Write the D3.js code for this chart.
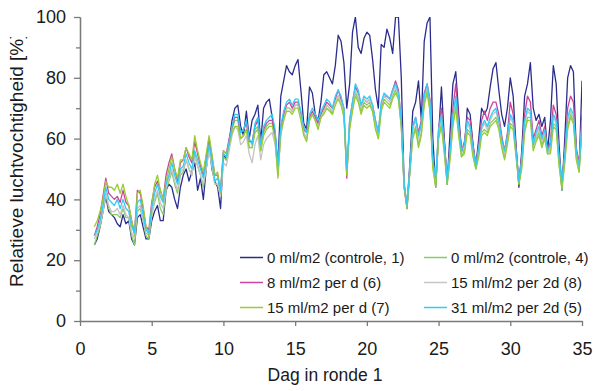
<!DOCTYPE html>
<html>
<head>
<meta charset="utf-8">
<script src="https://cdn.jsdelivr.net/npm/d3@7"></script>
<style>
  body { margin: 0; background: #fff; }
  svg { display: block; }
  text { font-family: "Liberation Sans", Arial, sans-serif; fill: #1a1a1a; }
</style>
</head>
<body>
<svg id="chart" width="594" height="391"></svg>
<script>
// Relative humidity per treatment, sampled every 0.2 day from day 1 to day 35
const firstDay = 1;
const sampleStep = 0.2;

const xTicks = [0, 5, 10, 15, 20, 25, 30, 35];
const yTicks = [0, 20, 40, 60, 80, 100];
const yMinorTicks = [10, 30, 50, 70, 90];

const seriesNames = [
  "0 ml/m2 (controle, 1)",
  "0 ml/m2 (controle, 4)",
  "8 ml/m2 per d (6)",
  "15 ml/m2 per 2d (8)",
  "15 ml/m2 per d (7)",
  "31 ml/m2 per 2d (5)"
];
const seriesColors = ["#2b2d8e", "#86cc66", "#cc4499", "#c4c4c4", "#99cc33", "#33ccf5"];

const control1 = [
  25,27,31,36,41,36,35,34,32,31,
  35,32,33,27,25,34,35,31,27,27,
  33,36,38,33,33,43,45,44,40,37,
  44,48,50,46,49,52,43,47,40,50,
  58,50,46,44,37,55,53,59,66,70,
  71,64,61,69,60,66,68,71,59,70,
  72,73,67,62,51,74,79,84,82,81,
  84,86,76,65,63,77,75,68,66,72,
  81,82,80,78,84,94,92,85,70,78,
  95,100,90,88,93,95,94,86,76,70,
  91,90,96,93,88,100,100,80,45,38,
  52,69,72,79,66,92,98,100,60,44,
  61,77,60,45,62,78,82,68,56,56,
  70,68,58,51,60,70,68,70,77,83,
  85,76,68,64,70,80,74,58,44,56,
  74,78,85,70,66,68,64,67,56,66,
  84,78,58,43,60,80,84,82,56,50,
  79
];
const control4 = [
  25,28,31,36,42,37,35,35,35,34,
  37,34,34,28,25,36,37,33,28,27,
  35,39,42,37,35,43,46,49,45,42,
  48,49,53,50,48,55,51,48,44,50,
  57,51,45,45,41,54,53,58,63,66,
  66,60,61,63,57,57,63,64,56,62,
  64,65,65,61,48,62,67,70,70,69,
  71,71,67,62,60,66,68,66,64,67,
  69,71,70,68,72,74,72,68,49,64,
  70,75,73,69,72,71,72,69,64,60,
  70,73,72,71,74,76,73,64,44,37,
  49,61,64,58,62,72,76,70,51,45,
  61,65,56,45,54,65,71,62,54,56,
  63,62,55,50,55,62,63,62,65,66,
  67,64,58,54,59,65,64,55,45,51,
  63,67,67,57,60,62,58,61,55,56,
  65,64,52,43,53,64,68,66,54,49,
  64
];
const dose8perDay = [
  28,31,35,41,47,42,41,40,41,39,
  43,39,38,33,29,43,42,37,31,30,
  39,44,46,43,40,48,52,55,50,46,
  52,53,57,54,52,59,55,51,48,54,
  60,54,48,48,43,56,55,60,64,67,
  67,62,63,65,59,59,64,66,59,63,
  65,66,66,61,50,64,68,71,72,70,
  72,72,68,63,62,67,69,67,65,68,
  70,72,71,70,73,76,73,70,47,66,
  72,77,75,71,73,72,73,71,66,62,
  71,74,74,73,76,79,76,66,44,37,
  50,64,67,62,66,75,78,73,52,46,
  63,70,59,46,57,70,78,66,56,59,
  67,66,58,51,58,66,69,66,70,72,
  72,68,61,56,62,72,68,57,46,54,
  68,74,72,60,63,66,61,64,56,59,
  71,68,54,45,56,70,74,72,57,52,
  68
];
const dose15per2d = [
  27,29,32,36,42,38,36,36,37,35,
  38,35,34,29,27,37,38,33,29,28,
  35,40,43,39,37,44,47,50,46,43,
  49,50,53,50,48,54,51,48,45,50,
  56,51,45,45,41,52,51,56,61,64,
  63,58,59,61,55,52,58,61,53,58,
  60,61,62,58,49,61,66,70,70,69,
  71,71,67,62,60,66,68,66,64,67,
  69,71,70,69,72,74,72,69,49,65,
  71,76,74,70,73,72,73,70,65,61,
  71,74,73,72,75,77,74,65,44,38,
  50,63,66,60,64,73,77,71,52,46,
  62,67,57,46,55,67,73,63,55,57,
  65,63,56,51,56,63,65,63,66,68,
  69,65,59,55,60,67,65,55,46,52,
  65,69,68,57,61,63,59,62,55,57,
  67,65,53,45,54,66,69,67,55,50,
  65
];
const dose15perDay = [
  31,33,36,40,46,44,44,43,45,42,
  45,41,38,33,28,42,43,38,31,28,
  38,45,48,43,40,46,50,54,50,47,
  53,53,57,55,53,61,56,52,49,55,
  61,55,48,49,42,56,55,58,62,64,
  64,60,61,63,57,57,62,63,56,61,
  63,64,64,60,47,62,66,69,69,68,
  70,70,66,61,59,66,68,66,63,67,
  68,70,69,68,71,73,71,67,48,63,
  69,74,72,68,71,70,71,69,63,60,
  69,72,71,70,73,75,73,64,44,37,
  49,60,63,57,61,71,75,69,50,44,
  60,64,55,45,53,64,70,61,54,55,
  62,61,54,50,54,61,62,61,64,65,
  66,63,57,53,58,64,63,54,45,50,
  62,66,66,56,59,61,57,60,55,55,
  64,63,51,44,52,63,67,65,53,49,
  63
];
const dose31per2d = [
  28,30,33,38,44,40,39,38,40,37,
  40,37,36,31,29,39,40,35,30,29,
  37,42,45,41,39,45,48,52,48,45,
  50,51,55,52,50,56,53,50,47,52,
  58,53,46,47,43,55,54,59,64,68,
  68,62,63,66,60,58,65,67,58,64,
  66,67,68,63,51,64,69,72,73,71,
  73,73,69,64,62,68,70,68,66,69,
  71,73,72,70,74,76,74,70,50,66,
  72,78,76,71,74,73,74,71,66,62,
  72,75,74,73,76,78,75,66,45,38,
  50,64,67,61,65,74,78,72,53,47,
  63,68,58,46,56,68,74,64,56,58,
  66,64,57,51,57,64,66,64,67,69,
  70,66,60,56,61,68,66,56,46,53,
  66,70,69,58,62,64,60,63,56,58,
  68,66,54,46,55,67,70,68,56,51,
  66
];

const seriesValues = [control1, control4, dose8perDay, dose15per2d, dose15perDay, dose31per2d];

const svg = d3.select("#chart");
const plot = { left: 80, right: 582, top: 17, bottom: 321 };

const x = d3.scaleLinear().domain([0, 35]).range([plot.left, plot.right]);
const y = d3.scaleLinear().domain([0, 100]).range([plot.bottom, plot.top]);

svg.append("defs").call(defs => {
  defs.append("clipPath").attr("id", "plot-clip")
    .append("rect")
    .attr("x", plot.left).attr("y", plot.top)
    .attr("width", plot.right - plot.left).attr("height", plot.bottom - plot.top);
  defs.append("clipPath").attr("id", "title-clip")
    .append("rect")
    .attr("x", 0).attr("y", 37).attr("width", 60).attr("height", 354);
});

// Data lines
const line = d3.line()
  .x((v, i) => x(firstDay + i * sampleStep))
  .y(v => y(v));

const lines = svg.append("g").attr("clip-path", "url(#plot-clip)");
seriesValues.forEach((vals, k) => {
  lines.append("path")
    .datum(vals)
    .attr("fill", "none")
    .attr("stroke", seriesColors[k])
    .attr("stroke-width", 1.3)
    .attr("stroke-linejoin", "round")
    .attr("d", line);
});

// Axes
const axisColor = "#7a7a7a";
function styleAxis(g, fontSize) {
  g.select(".domain").attr("stroke", axisColor).attr("stroke-width", 1.3);
  g.selectAll(".tick line").attr("stroke", axisColor).attr("stroke-width", 1.3);
  g.selectAll(".tick text").attr("fill", "#1a1a1a")
    .style("font-size", fontSize + "px")
    .style("font-family", '"Liberation Sans", Arial, sans-serif');
}

svg.append("g")
  .attr("transform", `translate(0,${plot.bottom})`)
  .call(d3.axisBottom(x).tickValues(xTicks).tickFormat(d3.format("d"))
    .tickSize(5).tickSizeOuter(0).tickPadding(16))
  .call(g => styleAxis(g, 18));

svg.append("g")
  .attr("transform", `translate(${plot.left},0)`)
  .call(d3.axisLeft(y).tickValues(yMinorTicks).tickFormat("")
    .tickSize(4).tickSizeOuter(0))
  .call(g => styleAxis(g, 18));

svg.append("g")
  .attr("transform", `translate(${plot.left},0)`)
  .call(d3.axisLeft(y).tickValues(yTicks).tickFormat(d3.format("d"))
    .tickSize(6).tickSizeOuter(0).tickPadding(8))
  .call(g => styleAxis(g, 18));

// Axis titles
svg.append("text")
  .attr("x", 325).attr("y", 381)
  .attr("text-anchor", "middle")
  .style("font-size", "17.5px")
  .text("Dag in ronde 1");

svg.append("g").attr("clip-path", "url(#title-clip)")
  .append("text")
  .attr("transform", "translate(23,287) rotate(-90)")
  .attr("text-anchor", "start")
  .style("font-size", "19px")
  .text("Relatieve luchtvochtigheid [%]");

// Legend: two columns, three rows
const legendCols = [240, 424];
const legendRows = [257.5, 282.5, 307.5];
const legend = svg.append("g");
seriesNames.forEach((name, k) => {
  const cx = legendCols[k % 2];
  const cy = legendRows[Math.floor(k / 2)];
  legend.append("line")
    .attr("x1", cx).attr("x2", cx + 23)
    .attr("y1", cy).attr("y2", cy)
    .attr("stroke", seriesColors[k])
    .attr("stroke-width", 1.5);
  legend.append("text")
    .attr("x", cx + 27).attr("y", cy)
    .attr("dy", "0.35em")
    .style("font-size", "15px")
    .text(name);
});
</script>
</body>
</html>
